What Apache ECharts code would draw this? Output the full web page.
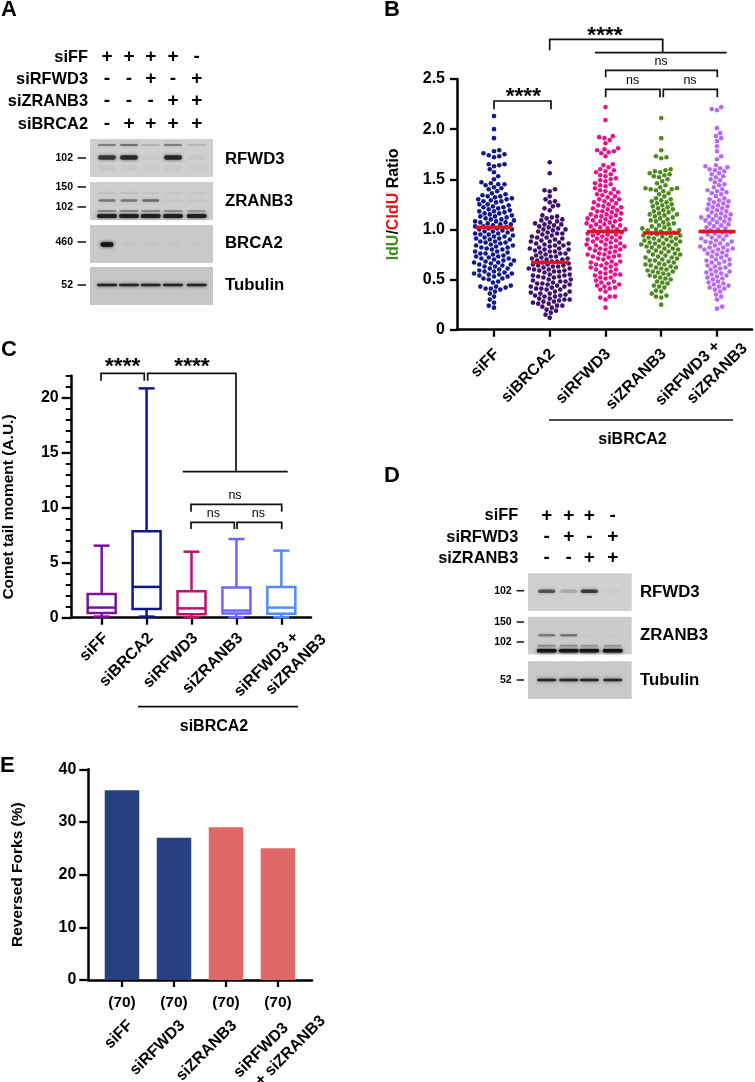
<!DOCTYPE html>
<html><head><meta charset="utf-8">
<style>html,body{margin:0;padding:0;background:#fff}#c{width:755px;height:1082px}</style>
<script src="https://cdn.jsdelivr.net/npm/echarts@6/dist/echarts.min.js"></script>
</head><body><div id="c"></div>
<script>
const FONT='"Liberation Sans",Arial,sans-serif';
// ---------- DATA ----------
const idu_siFF=[.22,.24,.27,.30,.33,.36,.38,.40,.41,.41,.42,.43,.43,.44,.47,.48,.50,.51,.51,.53,.53,.54,.55,.55,.56,.56,.57,.58,.58,.59,.59,.60,.61,.61,.63,.63,.64,.65,.65,.66,.67,.67,.68,.69,.69,.70,.71,.71,.72,.73,.73,.74,.75,.76,.76,.77,.78,.78,.80,.80,.81,.82,.82,.83,.84,.84,.85,.86,.87,.87,.88,.88,.90,.90,.91,.91,.92,.93,.93,.94,.95,.95,.96,.96,.97,.98,.98,.99,1.00,1.00,1.01,1.01,1.02,1.03,1.03,1.04,1.05,1.05,1.06,1.07,1.07,1.08,1.08,1.09,1.10,1.10,1.11,1.12,1.13,1.13,1.14,1.15,1.16,1.16,1.17,1.18,1.18,1.19,1.20,1.21,1.22,1.22,1.23,1.24,1.25,1.25,1.27,1.28,1.28,1.29,1.30,1.30,1.31,1.32,1.33,1.33,1.34,1.35,1.36,1.38,1.40,1.41,1.42,1.44,1.45,1.45,1.46,1.47,1.50,1.53,1.57,1.60,1.63,1.64,1.65,1.65,1.72,1.73,1.74,1.75,1.76,1.78,1.79,1.91,2.00,2.13];
const idu_siBRCA2=[.12,.15,.17,.19,.20,.22,.23,.24,.24,.26,.26,.27,.28,.28,.29,.30,.30,.31,.31,.33,.33,.34,.34,.35,.36,.36,.37,.37,.38,.38,.40,.40,.41,.41,.42,.43,.43,.44,.45,.45,.46,.46,.47,.48,.48,.49,.50,.50,.52,.52,.53,.53,.54,.54,.55,.55,.56,.56,.56,.57,.58,.58,.59,.59,.60,.60,.61,.61,.62,.63,.63,.64,.64,.65,.65,.66,.67,.67,.68,.68,.69,.70,.70,.71,.71,.72,.73,.73,.74,.74,.75,.76,.76,.77,.78,.78,.79,.80,.80,.81,.81,.82,.83,.84,.84,.85,.86,.86,.87,.88,.88,.89,.90,.91,.92,.92,.93,.94,.95,.96,.96,.97,.98,.99,1.00,1.00,1.01,1.02,1.03,1.04,1.05,1.05,1.06,1.07,1.08,1.09,1.10,1.11,1.12,1.13,1.14,1.19,1.21,1.23,1.24,1.27,1.28,1.30,1.33,1.38,1.39,1.40,1.56,1.67];
const idu_siRFWD3=[.22,.30,.32,.33,.33,.38,.40,.41,.42,.43,.44,.45,.46,.47,.48,.49,.51,.52,.52,.54,.55,.55,.56,.57,.58,.60,.60,.61,.62,.63,.64,.65,.65,.66,.67,.68,.68,.70,.71,.72,.73,.73,.74,.75,.75,.76,.77,.78,.79,.80,.80,.81,.81,.82,.83,.83,.84,.85,.85,.86,.87,.88,.88,.89,.90,.90,.91,.92,.92,.93,.94,.95,.95,.96,.96,.97,.98,.98,.99,1.00,1.00,1.01,1.02,1.03,1.03,1.04,1.05,1.05,1.06,1.07,1.08,1.08,1.09,1.10,1.10,1.11,1.12,1.13,1.13,1.14,1.15,1.15,1.16,1.17,1.18,1.18,1.19,1.20,1.21,1.22,1.22,1.23,1.24,1.25,1.26,1.27,1.28,1.29,1.30,1.30,1.32,1.33,1.34,1.35,1.36,1.37,1.38,1.39,1.40,1.41,1.43,1.44,1.45,1.46,1.48,1.49,1.50,1.51,1.53,1.54,1.55,1.57,1.58,1.59,1.60,1.62,1.64,1.65,1.73,1.76,1.77,1.78,1.79,1.80,1.81,1.86,1.89,1.91,1.92,1.93,2.09,2.22];
const idu_siZRANB3=[.25,.32,.33,.34,.36,.38,.39,.42,.43,.44,.46,.47,.48,.50,.51,.52,.53,.54,.55,.56,.57,.58,.58,.59,.60,.61,.62,.62,.63,.64,.65,.65,.66,.67,.68,.69,.69,.70,.71,.72,.72,.73,.74,.75,.75,.76,.77,.78,.78,.79,.80,.81,.81,.82,.83,.83,.84,.85,.85,.86,.86,.87,.88,.88,.89,.89,.90,.90,.91,.91,.92,.92,.93,.93,.94,.94,.95,.95,.96,.96,.97,.97,.98,.99,.99,1.00,1.00,1.01,1.02,1.03,1.04,1.05,1.06,1.07,1.08,1.09,1.10,1.11,1.12,1.13,1.14,1.15,1.15,1.16,1.17,1.18,1.19,1.20,1.21,1.22,1.23,1.24,1.25,1.26,1.27,1.28,1.29,1.30,1.31,1.33,1.35,1.36,1.38,1.39,1.40,1.40,1.41,1.41,1.42,1.44,1.46,1.48,1.50,1.52,1.53,1.54,1.55,1.56,1.57,1.58,1.59,1.60,1.71,1.72,1.73,1.79,1.91,2.11];
const idu_combo=[.21,.23,.30,.33,.35,.38,.40,.41,.42,.43,.44,.45,.46,.47,.48,.50,.51,.52,.53,.54,.55,.56,.57,.58,.58,.60,.61,.62,.63,.64,.65,.66,.67,.68,.69,.70,.70,.72,.73,.74,.75,.76,.77,.78,.79,.80,.80,.81,.82,.82,.83,.84,.85,.86,.87,.88,.88,.89,.90,.91,.92,.93,.94,.95,.96,.97,.97,.98,.99,1.00,1.01,1.02,1.03,1.04,1.05,1.06,1.07,1.08,1.09,1.10,1.10,1.11,1.12,1.13,1.13,1.14,1.15,1.16,1.17,1.18,1.19,1.20,1.21,1.22,1.23,1.24,1.25,1.26,1.27,1.28,1.29,1.30,1.31,1.33,1.35,1.36,1.37,1.38,1.39,1.40,1.42,1.44,1.45,1.47,1.49,1.50,1.52,1.53,1.55,1.56,1.58,1.59,1.60,1.61,1.62,1.63,1.64,1.70,1.73,1.78,1.83,1.88,1.91,1.93,1.96,2.01,2.19,2.20,2.22];
const iduCategories=['siFF','siBRCA2','siRFWD3','siZRANB3','siRFWD3 +\nsiZRANB3'];
const iduMedians=[1.02,.67,.98,.965,.98];
const iduColors=['#10188a','#3e0f6e','#e0148c','#4f8a1f','#b769f4'];

const cometCategories=['siFF','siBRCA2','siRFWD3','siZRANB3','siRFWD3 +\nsiZRANB3'];
const cometLow=[.1,.1,.05,.05,.05];
const cometQ1=[.42,.8,.32,.38,.36];
const cometMedian=[.92,2.8,.85,.65,.92];
const cometQ3=[2.15,7.85,2.4,2.75,2.8];
const cometHigh=[6.55,20.85,6.0,7.15,6.1];
const cometColors=['#7b109d','#10188a','#c0106e','#6f66ff','#4f8cff'];

const forkCategories=['siFF','siRFWD3','siZRANB3','siRFWD3\n+ siZRANB3'];
const forkValues=[36,27,29,25];
const forkCounts=['(70)','(70)','(70)','(70)'];
const forkColors=['#27407f','#27407f','#e06767','#e06767'];

const headerA=[['siFF',['+','+','+','+','-']],['siRFWD3',['-','-','+','-','+']],['siZRANB3',['-','-','-','+','+']],['siBRCA2',['-','+','+','+','+']]];
const headerD=[['siFF',['+','+','+','-']],['siRFWD3',['-','+','-','+']],['siZRANB3',['-','-','+','+']]];
const aRfwd3Upper=[.5,.6,.2,.5,.15], aRfwd3Main=[.72,.8,.03,.82,.04], aRfwd3Smear=[.035,.035,.03,.03,.025];
const aZranb3Faint=[.06,.06,.05,.03,.03], aZranb3Mid=[.42,.42,.48,.04,.04], aZranb3Low=[.35,.35,.32,.3,.25], aZranb3Heavy=[.88,.88,.88,.88,.88];
const aBrca2=[1,.025,.03,.025,.02], aTubulin=[.85,.85,.85,.85,.85];
const dRfwd3=[.58,.18,.7,.03], dZranb3Mid=[.4,.42,.02,.02], dZranb3Low=[.32,.32,.28,.28], dZranb3Heavy=[1,1,1,1], dTubulin=[.85,.85,.85,.85];

// ---------- BLOT GEOMETRY ----------
const lanesA=[107,129,150.7,173,196.7], lanesD=[546.7,568.7,589.3,612.7];
const panelsA=[[139,177,'#cfcfcf'],[182,220,'#cdcdcd'],[225,263,'#c9c9c9'],[267,305,'#c6c6c6']];
const panelsD=[[573.3,611,'#d0d0d0'],[616.7,654.3,'#cccccc'],[661.3,699,'#c8c8c8']];
const bandsA=[[145,1.4,18,aRfwd3Upper],[157.5,4.5,18,aRfwd3Main],[168,6,17,aRfwd3Smear],[193,3,18,aZranb3Faint],[200.5,2.6,17,aZranb3Mid],[211,1.8,19,aZranb3Low],[216,3.8,20,aZranb3Heavy],[244.5,4.6,13,aBrca2],[285,2.6,20,aTubulin]];
const bandsD=[[591.3,3.6,17,dRfwd3],[635.3,2.6,17,dZranb3Mid],[645.7,1.8,18,dZranb3Low],[650.7,3.6,20,dZranb3Heavy],[680,2.6,19,dTubulin]];

const blotData=(lanes,bands)=>{const o=[];bands.forEach(b=>b[3].forEach((v,i)=>o.push([lanes[i],b[0],b[1],b[2],v])));return o;};
const blotPanel=(x0,x1,ps)=>({type:'custom',coordinateSystem:'none',silent:true,z:1,data:ps.map(p=>[p[0]]),
  renderItem:(ctx,api)=>{const p=ps[ctx.dataIndex];return{type:'rect',shape:{x:x0,y:p[0],width:x1-x0,height:p[1]-p[0]},style:{fill:p[2]}};}});
const blotBands=(xi,yi,data)=>({type:'custom',xAxisIndex:xi,yAxisIndex:yi,silent:true,z:2,clip:false,data,encode:{x:0,y:1},
  renderItem:(ctx,api)=>{const c=api.coord([api.value(0),api.value(1)]),w=api.value(3),h=api.value(2),v=api.value(4),col='rgba(20,20,20,'+v+')';
    return{type:'rect',shape:{x:c[0]-w/2,y:c[1]-h/2,width:w,height:h,r:h/2},style:{fill:col,shadowBlur:3.5,shadowColor:col}};}});

// ---------- SWARM ----------
const SX=55.75,SY=100.3,STEP=4.9;
function swarm(vals,idx){const placed=[],out=[];vals.slice().sort((a,b)=>a-b).forEach(v=>{const py=v*SY;
  for(let k=0;k<40;k++){const off=(k%2?1:-1)*Math.ceil(k/2)*1.05*((idx+Math.round(v*100))%2?1:-1);
    if(placed.every(p=>(p[0]-off)**2+(p[1]-py)**2>=STEP*STEP)){placed.push([off,py]);out.push([idx+off/SX,v]);break;}}});return out;}

// ---------- ANNOTATIONS ----------
const G=[];
const T=(x,y,text,o={})=>G.push({type:'text',x,y,rotation:o.rot||0,silent:true,z:50,style:{text,fontFamily:FONT,fontWeight:o.w||'bold',fontSize:o.s||16,fill:o.c||'#000',align:o.a||'left',verticalAlign:'middle'}});
const L=(pts,w=1.7)=>G.push({type:'polyline',silent:true,z:49,shape:{points:pts},style:{stroke:'#111',lineWidth:w,fill:null}});
T(1,10,'A',{s:22});T(384,10,'B',{s:22});T(1,350,'C',{s:22});T(384,476,'D',{s:22});T(0,766,'E',{s:22});
headerA.forEach((r,i)=>{const y=[57,79,101,124][i];T(88,y,r[0],{a:'right',s:16.4});r[1].forEach((s,j)=>T(lanesA[j],y,s,{a:'center',s:19}));});
headerD.forEach((r,i)=>{const y=[515.3,537,558][i];T(518.3,y,r[0],{a:'right',s:16.4});r[1].forEach((s,j)=>T(lanesD[j],y,s,{a:'center',s:19}));});
[[158,'102'],[187,'150'],[207,'102'],[242,'460'],[285,'52']].forEach(m=>{T(73,m[0],m[1],{a:'right',s:10.5});L([[77.5,m[0]],[86,m[0]]],1.5);});
[[590.7,'102'],[622,'150'],[642,'102'],[680,'52']].forEach(m=>{T(511.7,m[0],m[1],{a:'right',s:10.5});L([[516.7,m[0]],[524,m[0]]],1.5);});
[[159,'RFWD3'],[201,'ZRANB3'],[243,'BRCA2'],[285,'Tubulin']].forEach(m=>T(225,m[0],m[1],{s:16.8}));
[[592,'RFWD3'],[635.7,'ZRANB3'],[680,'Tubulin']].forEach(m=>T(640,m[0],m[1],{s:16.8}));
// B brackets
L([[549.7,50.3],[549.7,39.3],[662.7,39.3],[662.7,52.7]]);L([[595,52.7],[726.7,52.7]]);T(605,36,'****',{a:'center',s:22.7});
L([[605.7,77.3],[605.7,70.3],[717.3,70.3],[717.3,77.3]]);T(661,61.5,'ns',{a:'center',s:12.5,w:'normal'});
L([[605.7,97.3],[605.7,89.3],[660,89.3],[660,97.3]]);L([[663.3,97.3],[663.3,89.3],[717.3,89.3],[717.3,97.3]]);
T(632.7,81,'ns',{a:'center',s:12.5,w:'normal'});T(690,81,'ns',{a:'center',s:12.5,w:'normal'});
L([[494,109.3],[494,101],[551,101],[551,109.3]]);T(523.3,97,'****',{a:'center',s:22.7});
L([[549,420],[733,420]]);T(632.5,440,'siBRCA2',{a:'center',s:16});
// C brackets
L([[101,380.7],[101,373.3],[144.3,373.3],[144.3,380.7]]);L([[147.7,380.7],[147.7,373.3],[236,373.3],[236,471.7]]);L([[182.7,471.7],[287.7,471.7]]);
T(122.7,367,'****',{a:'center',s:22.7});T(192,367,'****',{a:'center',s:22.7});
L([[191,511.7],[191,504.3],[281.7,504.3],[281.7,511.7]]);T(235,496,'ns',{a:'center',s:12.5,w:'normal'});
L([[191,529],[191,522.3],[234.3,522.3],[234.3,529]]);L([[237,529],[237,522.3],[281.7,522.3],[281.7,529]]);
T(213.3,514,'ns',{a:'center',s:12.5,w:'normal'});T(258.3,514,'ns',{a:'center',s:12.5,w:'normal'});
L([[138,706.7],[298,706.7]]);T(214,726.7,'siBRCA2',{a:'center',s:16});
T(9,507,'Comet tail moment (A.U.)',{a:'center',s:15.5,rot:Math.PI/2});

// ---------- AXES ----------
const lineS=(w=2.5)=>({show:true,onZero:false,lineStyle:{color:'#000',width:w}});
const tickS=(l,w=2.3)=>({show:true,length:l,lineStyle:{color:'#000',width:w}});
const lab=(o={})=>Object.assign({color:'#000',fontFamily:FONT,fontWeight:'bold',fontSize:16},o);
const hiddenX=(g,a,b)=>({gridIndex:g,type:'value',min:a,max:b,show:false});
const hiddenY=(g,a,b)=>({gridIndex:g,type:'value',min:a,max:b,inverse:true,show:false});
const NB='\u00a0';
// single-line rotated labels on the drawn axis; the two-line label sits on its own label-only axis
const xCat=(g,a,b,cats,shift,margin)=>({gridIndex:g,type:'value',min:a,max:b,splitLine:{show:false},axisLine:lineS(),
  axisTick:Object.assign(tickS(7),{customValues:cats.map((c,i)=>i)}),
  axisLabel:lab({customValues:cats.slice(0,cats.length-1).map((c,i)=>i+shift),formatter:v=>cats[Math.round(v)],rotate:45,fontSize:16,margin})});
const labelOnly=(g,a,b,pos,text,margin,offset=0)=>({gridIndex:g,type:'value',min:a,max:b,position:'bottom',offset,splitLine:{show:false},axisLine:{show:false,onZero:false},axisTick:{show:false},
  axisLabel:lab({customValues:[pos],formatter:()=>text,rotate:45,fontSize:16,margin,lineHeight:21})});
const pad=(s,n)=>{const p=s.split('\n');return p[0]+NB.repeat(n)+'\n'+p[1];};
const GB={outerBoundsMode:'none'};
const option={animation:false,backgroundColor:'#fff',
 grid:[{left:457,top:79,width:295,height:250.7,...GB},{left:71.7,top:375.7,width:239.3,height:242,...GB},{left:88.3,top:769.3,width:223.7,height:210.7,...GB},
       {left:90,top:45,width:123,height:260,...GB},{left:528,top:500,width:104,height:200,...GB},
       {left:71.7,top:375.7,width:300,height:242,...GB},{left:88.3,top:769.3,width:300,height:210.7,...GB}],
 xAxis:[xCat(0,-0.6637,4.628,iduCategories,.05,22),xCat(1,-0.667,4.66,cometCategories,.09,18),
   Object.assign(xCat(2,-0.648,3.654,forkCounts,0,5),{axisLabel:lab({customValues:[0,1,2,3],formatter:v=>forkCounts[v],margin:15,fontSize:15.5})}),
   {gridIndex:2,type:'value',min:-0.648,max:3.654,position:'bottom',offset:22,splitLine:{show:false},axisLine:{show:false,onZero:false},axisTick:{show:false},
    axisLabel:lab({customValues:[.16,1.16,2.16],formatter:v=>forkCategories[Math.round(v)],rotate:45,fontSize:16,margin:21})},
   hiddenX(3,90,213),hiddenX(4,528,632),
   labelOnly(0,-0.6637,4.628,4.37,pad(iduCategories[4],4),9),
   labelOnly(5,-0.667,6,4.77,pad(cometCategories[4],4),12),
   labelOnly(6,-0.648,5.121,3.72,pad(forkCategories[3],7),9,22)],
 yAxis:[{gridIndex:0,type:'value',min:0,max:2.5,interval:.5,splitLine:{show:false},axisLine:lineS(),axisTick:tickS(7),
     axisLabel:lab({margin:12,formatter:v=>v===0?'0':v.toFixed(1)}),
     name:'{g|IdU}{k|/}{r|CldU}{k| Ratio}',nameLocation:'middle',nameGap:55,nameRotate:90,
     nameTextStyle:{rich:{g:{fontFamily:FONT,fontWeight:'bold',fontSize:16,color:'#3f8a1f'},r:{fontFamily:FONT,fontWeight:'bold',fontSize:16,color:'#e01515'},k:{fontFamily:FONT,fontWeight:'bold',fontSize:16,color:'#000'}}}},
   {gridIndex:1,type:'value',min:0,max:22,interval:5,splitLine:{show:false},axisLine:lineS(),axisTick:Object.assign(tickS(10),{customValues:[0,5,10,15,20]}),
     axisLabel:lab({margin:13,customValues:[0,5,10,15,20]})},
   {gridIndex:1,type:'value',min:0,max:22,interval:1,position:'left',splitLine:{show:false},axisLine:{show:false,onZero:false},axisTick:tickS(6,2),axisLabel:{show:false}},
   {gridIndex:2,type:'value',min:0,max:40,interval:10,splitLine:{show:false},axisLine:lineS(),axisTick:tickS(9),axisLabel:lab({margin:12}),
     name:'Reversed Forks (%)',nameLocation:'middle',nameGap:63,nameRotate:90,nameTextStyle:{fontFamily:FONT,fontWeight:'bold',fontSize:15.5,color:'#000'}},
   hiddenY(3,45,305),hiddenY(4,500,700),hiddenY(5,0,1),hiddenY(6,0,1)],
 graphic:{elements:G},
 series:[
   blotPanel(90,213,panelsA),blotPanel(528,631.7,panelsD),
   blotBands(4,4,blotData(lanesA,bandsA)),blotBands(5,5,blotData(lanesD,bandsD)),
   ...[idu_siFF,idu_siBRCA2,idu_siRFWD3,idu_siZRANB3,idu_combo].map((vals,i)=>({name:iduCategories[i],type:'scatter',xAxisIndex:0,yAxisIndex:0,symbolSize:4.6,silent:true,
     itemStyle:{color:iduColors[i],opacity:1},data:swarm(vals,i),z:3})),
   {type:'scatter',xAxisIndex:0,yAxisIndex:0,symbol:'rect',symbolSize:[37,3.6],silent:true,itemStyle:{color:'#e2101a',opacity:1},z:5,data:iduMedians.map((m,i)=>[i,m])},
   {type:'custom',xAxisIndex:1,yAxisIndex:1,z:6,clip:false,silent:true,encode:{x:0,y:[1,2,3,4,5]},
    data:cometLow.map((l,i)=>[i,l,cometQ1[i],cometMedian[i],cometQ3[i],cometHigh[i]]),
    renderItem:(ctx,api)=>{const i=api.value(0),col=cometColors[ctx.dataIndex],P=v=>api.coord([i,v]),lo=P(api.value(1)),q1=P(api.value(2)),md=P(api.value(3)),q3=P(api.value(4)),hi=P(api.value(5)),x=lo[0];
      const st={stroke:col,lineWidth:2.5,fill:null};const ln=(a,b,c,d)=>({type:'line',shape:{x1:a,y1:b,x2:c,y2:d},style:st});
      return{type:'group',children:[ln(x,hi[1],x,q3[1]),ln(x,q1[1],x,lo[1]),ln(x-8,hi[1],x+8,hi[1]),ln(x-8,lo[1],x+8,lo[1]),
        {type:'rect',shape:{x:x-14,y:q3[1],width:28,height:q1[1]-q3[1]},style:st},ln(x-14,md[1],x+14,md[1])]};}},
   {type:'bar',xAxisIndex:2,yAxisIndex:3,barWidth:34.5,silent:true,data:forkValues.map((v,i)=>({value:[i,v],itemStyle:{color:forkColors[i]}}))}
 ]};
const chart=echarts.init(document.getElementById('c'),null,{renderer:'canvas'});
chart.setOption(option);
</script></body></html>
